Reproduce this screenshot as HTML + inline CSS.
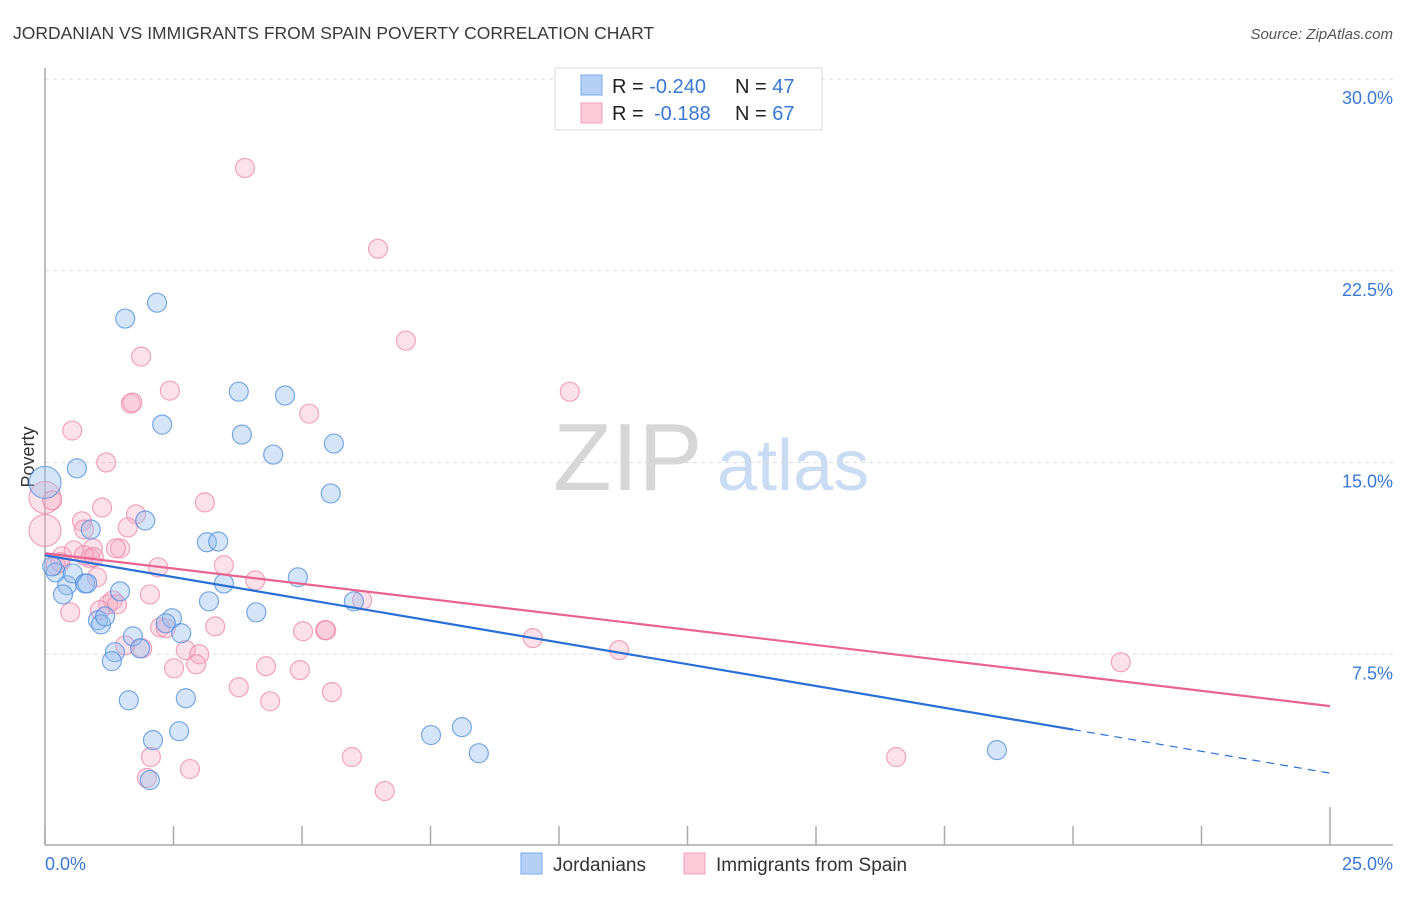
<!DOCTYPE html>
<html><head><meta charset="utf-8">
<style>
body{margin:0;background:#fff;font-family:"Liberation Sans",sans-serif;}
svg text{font-family:"Liberation Sans",sans-serif;}
</style></head>
<body>
<svg id="chart" width="1406" height="892" viewBox="0 0 1406 892">
<text x="13" y="39" font-size="17.5" fill="#3a3a3a">JORDANIAN VS IMMIGRANTS FROM SPAIN POVERTY CORRELATION CHART</text>
<text x="1393" y="39" font-size="15" fill="#555" font-style="italic" text-anchor="end">Source: ZipAtlas.com</text>
<text x="34" y="457" font-size="18" fill="#333" text-anchor="middle" transform="rotate(-90 34 457)">Poverty</text>
<g>
<text x="553" y="490" font-size="96" fill="#d6d6d6" font-family="Liberation Serif,serif">ZIP</text>
<text x="717" y="490" font-size="72" fill="#c9dcf3">atlas</text>
</g>
<g id="grid"></g>
<g id="axes"></g>
<g id="pts"></g>
<g id="trends"></g>
<g>
<rect x="555" y="68" width="267" height="62" fill="#fff" stroke="#d8d8d8"/>
<rect x="581" y="75" width="21" height="20" fill="#b6d0f5" stroke="#7aaae8"/>
<rect x="581" y="103" width="21" height="20" fill="#fbc9d8" stroke="#f0a0ba"/>
<text x="612" y="93" font-size="20" fill="#222">R = <tspan fill="#3a78d6">-0.240</tspan><tspan x="735">N = </tspan><tspan fill="#3a78d6">47</tspan></text>
<text x="612" y="120" font-size="20" fill="#222">R = <tspan x="654" fill="#3a78d6">-0.188</tspan><tspan x="735">N = </tspan><tspan fill="#3a78d6">67</tspan></text>
</g>
<g>
<rect x="521" y="853" width="21" height="21" fill="#b6d0f5" stroke="#7aaae8"/>
<text x="553" y="871" font-size="19" fill="#333">Jordanians</text>
<rect x="684" y="853" width="21" height="21" fill="#fbc9d8" stroke="#f0a0ba"/>
<text x="716" y="871" font-size="19" fill="#333">Immigrants from Spain</text>
</g>
</svg>
<script>
const yTicks=[7.5,15,22.5,30];
const yTickLabels=["7.5%","15.0%","22.5%","30.0%"];
const xTicks=[0,2.5,5,7.5,10,12.5,15,17.5,20,22.5,25];
const xEndLabels=["0.0%","25.0%"];
const blueX=[0,0.62,1.56,2.18,2.28,3.77,4.67,3.83,4.44,5.62,5.56,1.95,0.89,3.15,3.37,0.21,0.43,0.54,0.78,1.46,0.35,3.48,4.92,1.03,1.09,1.17,1.71,1.85,1.36,1.30,2.47,2.35,2.65,3.19,4.11,6.01,1.63,2.74,2.10,2.61,2.04,7.51,8.11,8.44,18.52,0.14,0.82];
const blueY=[14.22,14.77,20.63,21.25,16.48,17.77,17.62,16.09,15.31,15.74,13.79,12.73,12.38,11.88,11.91,10.70,10.20,10.66,10.27,9.96,9.84,10.27,10.51,8.83,8.67,8.98,8.20,7.73,7.58,7.23,8.91,8.71,8.32,9.57,9.14,9.57,5.70,5.78,4.14,4.49,2.58,4.34,4.65,3.63,3.75,10.94,10.27];
const blueBig=[0];
const pinkX=[3.89,6.48,7.02,10.21,1.87,2.43,1.67,5.14,0.53,1.19,0,0.14,0,3.11,1.11,0.72,1.77,1.61,0.76,1.46,0.93,0.56,0.33,0.88,1.38,0.21,2.20,3.48,4.09,1.01,2.04,1.32,1.23,1.07,1.40,0.49,3.31,2.24,5.02,5.45,6.17,9.49,11.17,1.56,1.89,2.74,3.00,2.51,2.94,4.30,4.96,20.93,3.77,5.58,4.38,5.97,2.06,2.82,1.98,6.61,16.56,0.76,2.35,5.47,1.70,0.30,0.95];
const pinkY=[26.52,23.36,19.77,17.77,19.14,17.81,17.30,16.91,16.25,15.00,13.63,13.52,12.34,13.44,13.24,12.70,12.97,12.46,12.38,11.64,11.64,11.56,11.33,11.25,11.64,10.98,10.90,10.98,10.39,10.51,9.84,9.61,9.45,9.22,9.45,9.14,8.59,8.55,8.40,8.44,9.61,8.13,7.66,7.85,7.73,7.66,7.50,6.95,7.11,7.03,6.88,7.19,6.21,6.02,5.66,3.48,3.48,3.01,2.66,2.15,3.48,11.37,8.52,8.44,17.35,11.10,11.30];
const pinkBig=[10,12];
const blueTrend=[11.37,2.85];
const blueSolidEnd=20;
const pinkTrend=[11.45,5.47];

const X0=45,X1=1330,YB=846,YT=79;
const sx=v=>X0+(X1-X0)*v/25;
const sy=v=>YB-(YB-YT)*v/30;
const NS="http://www.w3.org/2000/svg";
function mk(tag,parent,attrs){const e=document.createElementNS(NS,tag);for(const k in attrs)e.setAttribute(k,attrs[k]);document.getElementById(parent).appendChild(e);return e;}

yTicks.forEach((t,i)=>{
  const g=mk('line','grid',{x1:45,x2:1393,y1:sy(t),y2:sy(t),stroke:'#dcdcdc','stroke-dasharray':'4,4'});
  
  
  const l=mk('text','grid',{x:1393,y:sy(t)+25,'font-size':18,fill:'#3a78d6','text-anchor':'end'});
  
  
  l.textContent=yTickLabels[i];
});
const ya=mk('line','axes',{x1:45,x2:45,y1:68,y2:845,stroke:'#aaa','stroke-width':1.5});


const xa=mk('line','axes',{x1:45,x2:1393,y1:845,y2:845,stroke:'#aaa','stroke-width':1.5});


xTicks.forEach((t,i)=>{
  const tk=mk('line','axes',{x1:sx(t),x2:sx(t),y1:(i==xTicks.length-1?807:826),y2:845,stroke:'#aaa','stroke-width':1.5});
  
  
});
const xl0=mk('text','axes',{x:45,y:870,'font-size':18,fill:'#3a78d6'});


xl0.textContent=xEndLabels[0];
const xl1=mk('text','axes',{x:1393,y:870,'font-size':18,fill:'#3a78d6','text-anchor':'end'});


xl1.textContent=xEndLabels[1];

function pts(xs,ys,big,fill,stroke,name){
  xs.forEach((x,i)=>{
    const c=mk('circle','pts',{cx:sx(x),cy:sy(ys[i]),r:big.includes(i)?16:9.5,fill:fill,stroke:stroke,'stroke-width':1.2});
    
    
  });
}
pts(pinkX,pinkY,pinkBig,'rgba(248,175,200,0.38)','rgba(235,130,165,0.7)','spain-point');
pts(blueX,blueY,blueBig,'rgba(150,190,240,0.4)','rgba(80,140,220,0.75)','jordanian-point');

const by=x=>blueTrend[0]+(blueTrend[1]-blueTrend[0])*x/25;
const bl=mk('line','trends',{x1:sx(0),y1:sy(by(0)),x2:sx(blueSolidEnd),y2:sy(by(blueSolidEnd)),stroke:'#2a6fd6','stroke-width':2.2});


const bd=mk('line','trends',{x1:sx(blueSolidEnd),y1:sy(by(blueSolidEnd)),x2:sx(25),y2:sy(by(25)),stroke:'#2a6fd6','stroke-width':1.2,'stroke-dasharray':'8,6'});


const pl=mk('line','trends',{x1:sx(0),y1:sy(pinkTrend[0]),x2:sx(25),y2:sy(pinkTrend[1]),stroke:'#e8648f','stroke-width':2.2});


</script>
</body></html>
